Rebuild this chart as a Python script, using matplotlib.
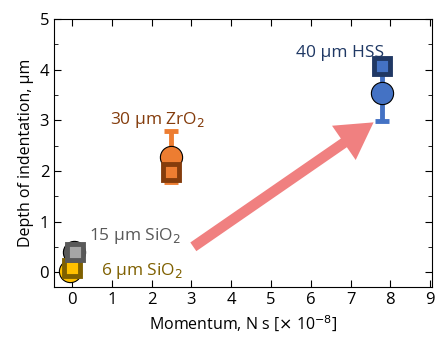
import matplotlib.pyplot as plt

plt.rcParams['font.family'] = ['Open Sans', 'DejaVu Sans']

# momentum (x 1e-8 N s) and indentation depth (um)
labels = ['6 \u00b5m SiO$_2$', '15 \u00b5m SiO$_2$', '30 \u00b5m ZrO$_2$', '40 \u00b5m HSS']
x_circle = [-0.05, 0.05, 2.5, 7.78]
y_circle = [0.03, 0.39, 2.28, 3.55]
err_circle = [0.0, 0.0, 0.5, 0.57]
x_square = [0.0, 0.07, 2.5, 7.8]
y_square = [0.08, 0.40, 1.98, 4.07]

circle_fill = ['#FFC000', '#595959', '#ED7D31', '#4472C4']
square_edge = ['#7F6000', '#595959', '#843C0C', '#203864']
square_fill = ['#FFC000', '#A6A6A6', '#ED7D31', '#4472C4']
label_color = ['#7F6000', '#595959', '#843C0C', '#1F3864']
label_pos = [(1.75, 0.03), (1.57, 0.71), (2.15, 3.0), (6.75, 4.33)]

fig = plt.figure(figsize=(4.36, 3.42), dpi=100)
ax = fig.add_axes([0.124, 0.16, 0.867, 0.784])

for i in range(4):
    if err_circle[i] > 0:
        ax.errorbar(x_circle[i], y_circle[i], yerr=err_circle[i], fmt='none',
                    ecolor=circle_fill[i], elinewidth=3.5, capsize=5, capthick=3.5, zorder=2)
    ax.plot(x_circle[i], y_circle[i], 'o', ms=16, mfc=circle_fill[i], mec='black',
            mew=0.8, zorder=3)
    ax.plot(x_square[i], y_square[i], 's', ms=12, mfc=square_fill[i], mec=square_edge[i],
            mew=3.5, zorder=4)
    ax.text(label_pos[i][0], label_pos[i][1], labels[i], color=label_color[i],
            fontsize=12.5, ha='center', va='center')

ax.annotate('', xy=(7.58, 2.96), xytext=(3.05, 0.5),
            arrowprops=dict(arrowstyle='simple,head_length=1.3,head_width=1.5,tail_width=0.38',
                            mutation_scale=20, color='#F08080', lw=0, shrinkA=0, shrinkB=0),
            zorder=1)

ax.set_xlim(-0.45, 9.05)
ax.set_ylim(-0.3, 5)
ax.set_xticks(range(10))
ax.set_yticks(range(6))
ax.set_yticks([0.5, 1.5, 2.5, 3.5, 4.5], minor=True)
ax.tick_params(direction='in', top=True, right=True, labelsize=12, length=5)
ax.tick_params(which='minor', direction='in', right=True, length=3)
ax.set_xlabel('Momentum, N s [$\\times$ 10$^{-8}$]', fontsize=11.5)
ax.set_ylabel('Depth of indentation, \u00b5m', fontsize=11.5)

fig.savefig('out.png', dpi=100)
